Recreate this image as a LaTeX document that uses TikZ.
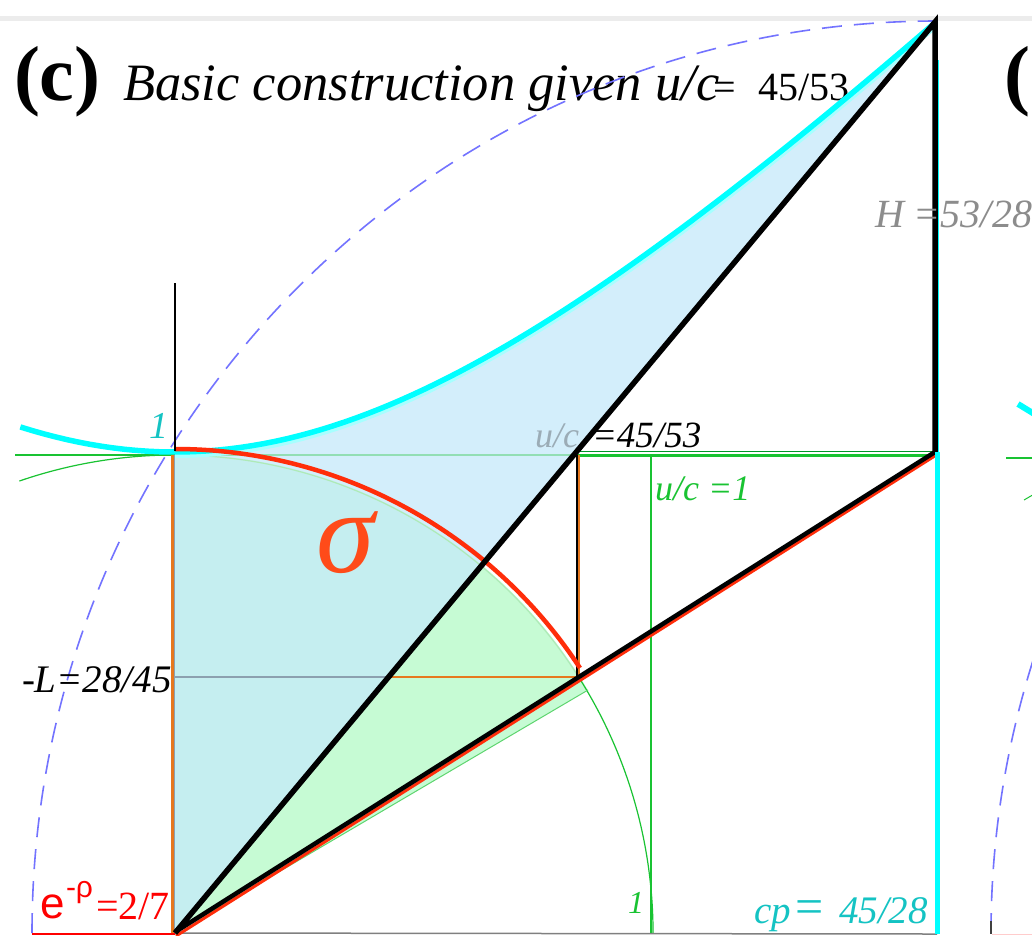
\documentclass[tikz,border=0pt]{standalone}
\usepackage{fontspec}
\setmainfont{Liberation Serif}
\newfontfamily\tmsfam{Liberation Serif}
\newfontfamily\sansfam{Liberation Sans}
\newcommand\myfs[1]{\fontsize{#1}{#1}\selectfont}
\definecolor{bluefill}{RGB}{211,238,251}
\definecolor{overlapfill}{RGB}{197,238,240}
\definecolor{greenfill}{RGB}{198,251,212}
\definecolor{cyanline}{RGB}{0,255,255}
\definecolor{dashblue}{RGB}{115,115,255}
\definecolor{mygreen}{RGB}{25,195,50}
\definecolor{darkgreen}{RGB}{0,150,40}
\definecolor{myorange}{RGB}{230,120,30}
\definecolor{myred}{RGB}{255,45,10}
\definecolor{sigmared}{RGB}{255,75,25}
\definecolor{tealtext}{RGB}{20,195,195}
\definecolor{graytext}{RGB}{140,140,140}
\definecolor{ucgray}{RGB}{155,172,182}
\definecolor{grayblue}{RGB}{140,160,175}
\definecolor{bandgray}{RGB}{236,236,236}
\begin{document}
\begin{tikzpicture}[x=1pt,y=-1pt,line join=round,
  lbl/.style={anchor=base west,inner sep=0pt,outer sep=0pt},
  thinline/.style={line width=1.2pt},
  dashcircle/.style={dashblue,line width=1.6pt,dash pattern=on 20pt off 12pt}]
\useasboundingbox (0,0) rectangle (1032,935);
\fill[white] (0,0) rectangle (1032,935);
\fill[bandgray] (0,15.5) rectangle (1032,21);

% key points
\coordinate (O) at (175,933);
\coordinate (A) at (935,22);
\coordinate (P) at (175,452);
\coordinate (Q) at (935,452);
\coordinate (S) at (578,452);
\coordinate (R) at (578,677);
\coordinate (T) at (389,677);
\coordinate (L0) at (175,677);
\coordinate (U1) at (651,457);
\coordinate (U0) at (651,933);
\coordinate (Bend) at (937,934);
\coordinate (Eleft) at (32,934);

% fills
\fill[greenfill] (O) -- (175,454) arc[start angle=90,end angle=30.5,radius=479pt] -- cycle;
\fill[bluefill] (O) -- (P) -- plot[domain=0:1.607,samples=60,variable=\t] ({175+473*\t},{933-481*sqrt(1+\t*\t)}) -- (A) -- cycle;
\fill[overlapfill] (O) -- (175,454) arc[start angle=90,end angle=50.1,radius=479pt] -- cycle;

% title
\node[lbl,font=\tmsfam\bfseries\myfs{78}] (tc) at (14,100) {(c)};
\node[lbl,font=\tmsfam\itshape\myfs{52.5}] (tt) at (123,100) {Basic construction given u/c};
\node[lbl,font=\tmsfam\myfs{40}] (teq) at (713,100) {=};
\node[lbl,font=\tmsfam\myfs{40}] (tval) at (758,100) {45/53};

% dashed circle
\draw[dashcircle] (32,933) arc[start angle=180,end angle=90,x radius=905pt,y radius=912pt];

% thin green unit circle
\draw[mygreen,thinline] (19.4,481) arc[start angle=109,end angle=90,radius=478pt];
\draw[mygreen!35,thinline] (175,455) arc[start angle=90,end angle=32.4,radius=478pt];
\draw[mygreen,thinline] (578.6,677) arc[start angle=32.4,end angle=0,radius=478pt];

% green y=1 lines
\draw[mygreen,line width=2.5pt] (15,455) -- (175,455);
\draw[mygreen,opacity=0.35,line width=2pt] (175,455) -- (578,455);
\draw[mygreen,line width=2.2pt] (578,455.5) -- (937,455.5);
\draw[darkgreen,line width=1.8pt] (578,451.5) -- (937,451.5);
\draw[mygreen,line width=2pt] (U1) -- (U0);

% bottom lines
\draw[gray,line width=1.5pt] (O) -- (Bend);
\draw[red,line width=2pt] (Eleft) -- (175,934);

% orange / gray construction lines
\draw[myorange,line width=2.5pt] (172.5,455) -- (172.5,933);
\draw[grayblue,line width=1pt] (174.5,455) -- (174.5,933);
\draw[grayblue,line width=2pt] (L0) -- (T);
\draw[myorange,line width=2.5pt] (T) -- (R);
\draw[black,line width=1.5pt] (577,455) -- (577,677);
\draw[myorange,line width=2pt] (579.3,455) -- (579.3,677);
\draw[mygreen!70,line width=1pt] (O) -- (588,690);

% hyperbola
\draw[cyanline!35,line width=8pt] plot[domain=0:1.607,samples=70,variable=\t] ({175+473*\t},{935-481*sqrt(1+\t*\t)});
\draw[cyanline,line width=5.5pt] plot[domain=-0.327:1.607,samples=80,variable=\t] ({175+473*\t},{933-481*sqrt(1+\t*\t)});

% red arc sigma
\draw[myred,line width=4.5pt] (175,449) arc[start angle=90,end angle=33.2,radius=484pt];

% black lines
\draw[line width=2.5pt] (175,283) -- (175,451);
\draw[myred,line width=3pt] (176,936) -- (937,454.5);
\draw[line width=4.5pt] (175,932) -- (Q);
\draw[line width=5.5pt,line join=miter,miter limit=12] (O) -- (A) -- (Q);
\draw[cyanline,line width=1.8pt] (938.5,60) -- (938.5,452);
\draw[cyanline,line width=5pt] (937.5,452) -- (937.5,934);

% labels
\node[lbl,font=\tmsfam\itshape\myfs{38},text=tealtext] (one) at (149,438) {1};
\node[lbl,font=\tmsfam\itshape\myfs{36},text=ucgray] (uc1) at (535,447) {u/c};
\node[lbl,font=\tmsfam\itshape\myfs{37}] (uc2) at (592,447) {=45/53};
\node[lbl,font=\tmsfam\itshape\myfs{36},text=mygreen] (ucone) at (655,500) {u/c =1};
\node[lbl,font=\tmsfam\itshape\myfs{118},text=sigmared] (sig) at (316,572) {σ};
\node[lbl,font=\tmsfam\itshape\myfs{39}] (Llab) at (22,692) {-L=28/45};
\node[lbl,font=\tmsfam\itshape\myfs{40},text=graytext] (Hlab) at (875,227) {H =53/28};
\node[lbl,font=\sansfam\myfs{44},text=red] (elab) at (40,918) {e};
\node[lbl,font=\sansfam\myfs{30},text=red] (rholab) at (66,897) {-ρ};
\node[lbl,font=\tmsfam\myfs{40},text=red] (elab2) at (96,919) {=2/7};
\node[lbl,font=\tmsfam\itshape\myfs{32},text=mygreen] (onebot) at (628,913) {1};
\node[lbl,font=\tmsfam\itshape\myfs{39},text=tealtext] (cp1) at (754,923) {cp};
\node[lbl,font=\tmsfam\myfs{50},text=tealtext] (cp2) at (795,923) {=};
\node[lbl,font=\tmsfam\itshape\myfs{39},text=tealtext] (cp3) at (839,923) {45/28};

% fragments of the neighbouring panel
\node[lbl,font=\tmsfam\bfseries\myfs{78}] (nextp) at (1004,100) {(};
\draw[cyanline,line width=6pt] (1018,404) -- (1036,415);
\draw[mygreen,line width=2.5pt] (1006,458) -- (1036,458);
\draw[mygreen,line width=1pt] (1024,500) -- (1036,493);
\draw[dashcircle] (991,933) arc[start angle=180,end angle=160,radius=905pt];
\draw[darkgray,line width=1.5pt] (991,921) -- (991,934);
\draw[red!20,line width=1pt] (992,934) -- (1036,934);
\end{tikzpicture}
\end{document}
